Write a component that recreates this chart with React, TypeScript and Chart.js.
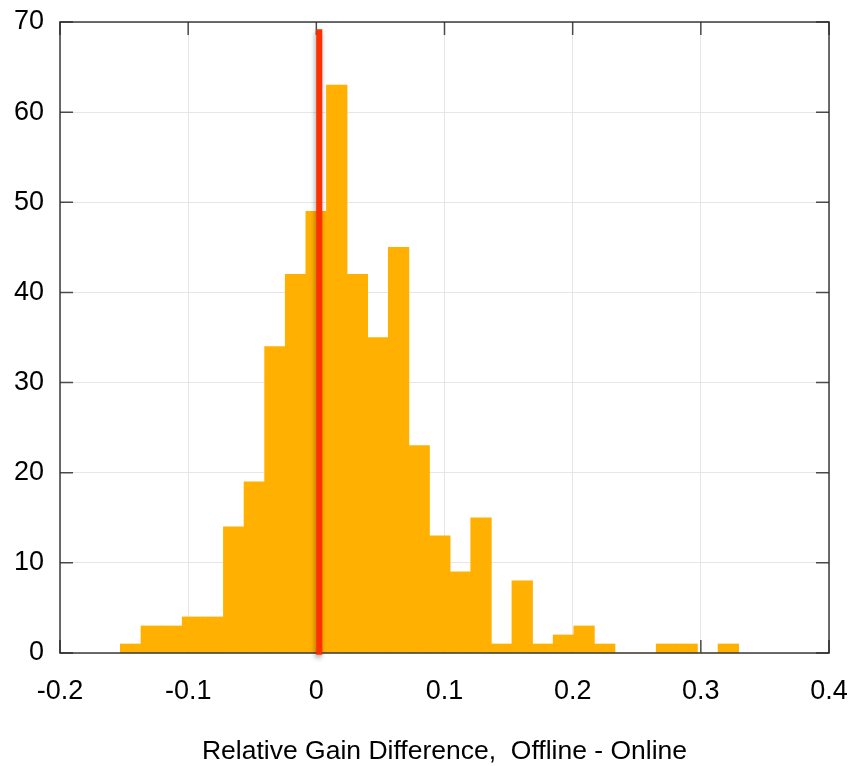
import React, { useEffect, useRef } from "react";
import { Chart, registerables } from "chart.js";

Chart.register(...registerables);

// Histogram bins (centres) and counts
const binCenters = [
  -0.14486, -0.12878, -0.1127, -0.09662, -0.08054, -0.06446, -0.04838, -0.0323,
  -0.01622, -0.00014, 0.01594, 0.03202, 0.0481, 0.06418, 0.08026, 0.09634,
  0.11242, 0.1285, 0.14458, 0.16066, 0.17674, 0.19282, 0.2089, 0.22498,
  0.24106, 0.25714, 0.27322, 0.2893, 0.30538, 0.32146,
];
const counts = [
  1, 3, 3, 4, 4, 14, 19, 34, 42, 49, 63, 42, 35, 45, 23, 13, 9, 15, 1, 8, 1, 2,
  3, 1, 0, 0, 1, 1, 0, 1,
];

// Reference (red) vertical line
const refLineX = [0.0023, 0.0023];
const refLineY = [-0.2, 69.2];

const xTickLabels = ["-0.2", "-0.1", "0", "0.1", "0.2", "0.3", "0.4"];
const yTickLabels = ["0", "10", "20", "30", "40", "50", "60", "70"];
const xAxisTitle = "Relative Gain Difference,  Offline - Online";

const FONT = "'Liberation Sans', Arial, Helvetica, sans-serif";

const framePlugin = {
  id: "framePlugin",
  beforeDatasetsDraw(chart: any) {
    const { ctx, chartArea, scales } = chart;
    const { left, right, top, bottom } = chartArea;
    const x = scales.x;
    const y = scales.y;
    ctx.save();
    ctx.strokeStyle = "#4a4a4a";
    ctx.lineWidth = 1.5;
    ctx.beginPath();
    x.ticks.forEach((t: any) => {
      const px = x.getPixelForValue(t.value);
      ctx.moveTo(px, top);
      ctx.lineTo(px, top + 13);
      ctx.moveTo(px, bottom);
      ctx.lineTo(px, bottom - 13);
    });
    y.ticks.forEach((t: any) => {
      const py = y.getPixelForValue(t.value);
      ctx.moveTo(left, py);
      ctx.lineTo(left + 13, py);
      ctx.moveTo(right, py);
      ctx.lineTo(right - 13, py);
    });
    ctx.stroke();
    ctx.restore();
  },
  beforeDatasetDraw(chart: any, args: any) {
    if (args.index === 1) {
      const ctx = chart.ctx;
      ctx.save();
      ctx.shadowColor = "rgba(0,0,0,0.35)";
      ctx.shadowBlur = 5;
      ctx.shadowOffsetX = -1;
      ctx.shadowOffsetY = 3;
    }
  },
  afterDatasetDraw(chart: any, args: any) {
    const ctx = chart.ctx;
    if (args.index === 1) {
      ctx.restore();
    }
    if (args.index === 0) {
      const { left, right, top, bottom } = chart.chartArea;
      ctx.save();
      ctx.strokeStyle = "rgba(40,40,40,0.85)";
      ctx.lineWidth = 1.6;
      ctx.strokeRect(left, top, right - left, bottom - top);
      ctx.restore();
    }
  },
};

const zeroPad = (scale: any) => {
  scale.paddingLeft = 0;
  scale.paddingRight = 0;
  scale.paddingTop = 0;
  scale.paddingBottom = 0;
};

export default function App() {
  const canvasRef = useRef<HTMLCanvasElement | null>(null);

  useEffect(() => {
    if (!canvasRef.current) return;
    const chart = new Chart(canvasRef.current, {
      type: "bar",
      data: {
        datasets: [
          {
            type: "bar",
            data: binCenters.map((c, i) => ({ x: c, y: counts[i] })),
            backgroundColor: "#ffb000",
            borderWidth: 0,
            barPercentage: 1,
            categoryPercentage: 1,
            order: 2,
          } as any,
          {
            type: "line",
            data: refLineX.map((xv, i) => ({ x: xv, y: refLineY[i] })),
            borderColor: "#ff3000",
            borderWidth: 6,
            borderCapStyle: "butt",
            pointRadius: 0,
            fill: false,
            clip: false,
            order: 1,
          } as any,
        ],
      },
      options: {
        animation: false,
        responsive: false,
        devicePixelRatio: 1,
        layout: { padding: { left: 0, top: 22, right: 22, bottom: 0 } },
        plugins: {
          legend: { display: false },
          tooltip: { enabled: false },
        },
        scales: {
          x: {
            type: "linear",
            min: -0.2,
            max: 0.4,
            offset: false,
            border: { display: false },
            grid: { color: "#e6e6e6", lineWidth: 1, drawTicks: false, offset: false },
            ticks: {
              stepSize: 0.1,
              padding: 22,
              color: "#000",
              font: { family: FONT, size: 27 },
              maxRotation: 0,
              autoSkip: false,
              callback: (_v: any, i: number) => xTickLabels[i],
            },
            title: {
              display: true,
              text: xAxisTitle,
              color: "#000",
              font: { family: FONT, size: 26.5, lineHeight: 1.1 },
              padding: { top: 0, bottom: 0 },
            },
            afterFit: (scale: any) => {
              scale.height = 113;
              zeroPad(scale);
            },
          } as any,
          y: {
            type: "linear",
            min: 0,
            max: 70,
            border: { display: false },
            grid: { color: "#e6e6e6", lineWidth: 1, drawTicks: false },
            ticks: {
              stepSize: 10,
              padding: 16,
              color: "#000",
              font: { family: FONT, size: 27 },
              callback: (_v: any, i: number) => yTickLabels[i],
            },
            afterFit: (scale: any) => {
              scale.width = 60;
              zeroPad(scale);
            },
          } as any,
        },
      },
      plugins: [framePlugin],
    });
    return () => chart.destroy();
  }, []);

  return (
    <div style={{ position: "absolute", left: 0, top: 0, width: 851, height: 766, background: "#fff" }}>
      <canvas ref={canvasRef} width={851} height={766} style={{ display: "block" }} />
    </div>
  );
}
